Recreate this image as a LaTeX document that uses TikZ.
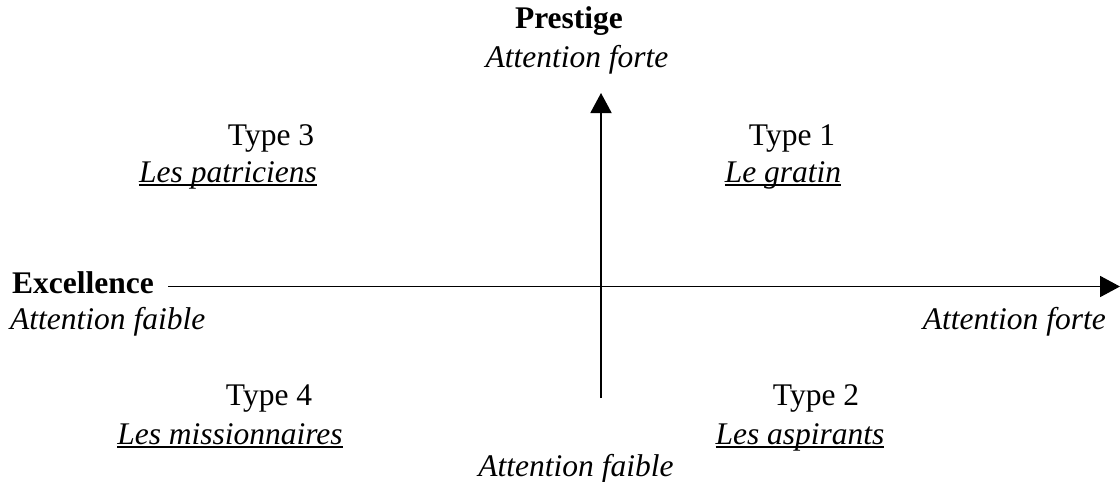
\documentclass[tikz,border=0pt]{standalone}
\usepackage{fontspec}
\setmainfont{Liberation Serif}
\usetikzlibrary{arrows.meta}
\newcommand{\ulx}[1]{\setbox0\hbox{#1}\rlap{\rule[-3.9pt]{\wd0}{1.6pt}}\box0}
\begin{document}
\begin{tikzpicture}[x=1pt,y=-1pt,
  lbl/.style={inner sep=0pt, anchor=base, font=\fontsize{31.5}{38}\selectfont},
  axisline/.style={line width=1.9pt, -{Triangle[length=20pt,width=21pt]}}]
\useasboundingbox (0,0) rectangle (1120,482);
% axes
\coordinate (vbot) at (601,398);
\coordinate (vtop) at (601,93);
\coordinate (hl) at (168,286.5);
\coordinate (hr) at (1120,286.5);
\draw[axisline] (vbot) -- (vtop);
\draw[axisline] (hl) -- (hr);
% labels
\node[lbl] (prestige) at (569,28) {\textbf{Prestige}};
\node[lbl] (afortetop) at (577,67) {\textit{Attention forte}};
\node[lbl] (type3) at (271,145) {Type 3};
\node[lbl] (patr) at (228,182) {\ulx{\textit{Les patriciens}}};
\node[lbl] (type1) at (792,145) {Type 1};
\node[lbl] (gratin) at (783,182) {\ulx{\textit{Le gratin}}};
\node[lbl, anchor=base west] (excel) at (12,293) {\textbf{Excellence}};
\node[lbl, anchor=base west] (afaibleleft) at (10,329) {\textit{Attention faible}};
\node[lbl, anchor=base east] (aforteright) at (1106,329) {\textit{Attention forte}};
\node[lbl] (type4) at (269,405) {Type 4};
\node[lbl] (miss) at (230,444) {\ulx{\textit{Les missionnaires}}};
\node[lbl] (type2) at (816,405) {Type 2};
\node[lbl] (asp) at (800,444) {\ulx{\textit{Les aspirants}}};
\node[lbl] (afaiblebot) at (576,476) {\textit{Attention faible}};
\end{tikzpicture}
\end{document}
